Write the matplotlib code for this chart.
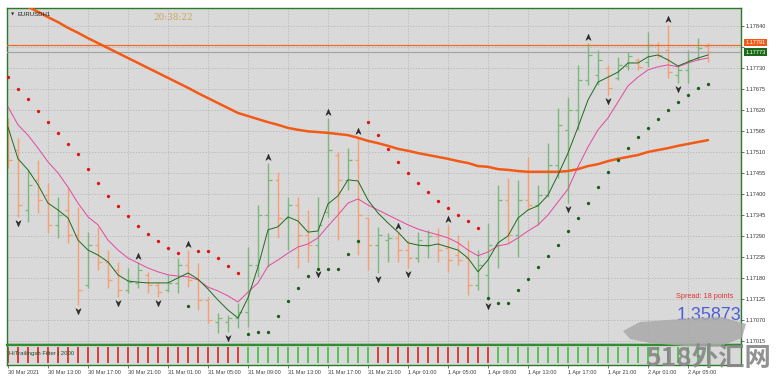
import numpy as np
import matplotlib
matplotlib.use("Agg")
import matplotlib.pyplot as plt
from matplotlib.path import Path
from matplotlib.patches import Polygon
from matplotlib.transforms import offset_copy

plt.rcParams['font.family'] = ['Liberation Sans', 'DejaVu Sans']

# EURUSD H1, bars from 30 Mar 2021 09:00 (one bar per hour)
opens = [1.17581, 1.17515, 1.17358, 1.17437, 1.17397, 1.17319, 1.17358, 1.17293, 1.17162, 1.17266,
         1.17222, 1.17201, 1.17148, 1.17167, 1.17188, 1.17162, 1.17148, 1.17167, 1.17214, 1.17180,
         1.17122, 1.17065, 1.17065, 1.17075, 1.17091, 1.17214, 1.17345, 1.17437, 1.17337, 1.17371,
         1.17293, 1.17266, 1.17353, 1.17502, 1.17437, 1.17489, 1.17337, 1.17266, 1.17279, 1.17285,
         1.17253, 1.17232, 1.17266, 1.17290, 1.17258, 1.17240, 1.17232, 1.17162, 1.17188, 1.17266,
         1.17384, 1.17293, 1.17384, 1.17371, 1.17397, 1.17476, 1.17568, 1.17620, 1.17698, 1.17712,
         1.17730, 1.17704, 1.17735, 1.17751, 1.17746, 1.17790, 1.17777, 1.17712, 1.17725, 1.17756,
         1.17788]
highs = [1.17599, 1.17547, 1.17463, 1.17489, 1.17429, 1.17392, 1.17416, 1.17366, 1.17300, 1.17313,
         1.17253, 1.17222, 1.17206, 1.17222, 1.17196, 1.17169, 1.17188, 1.17232, 1.17253, 1.17219,
         1.17130, 1.17088, 1.17083, 1.17114, 1.17261, 1.17371, 1.17481, 1.17458, 1.17392, 1.17392,
         1.17358, 1.17392, 1.17599, 1.17510, 1.17520, 1.17549, 1.17340, 1.17313, 1.17298, 1.17300,
         1.17279, 1.17300, 1.17306, 1.17311, 1.17319, 1.17293, 1.17279, 1.17253, 1.17324, 1.17423,
         1.17442, 1.17437, 1.17497, 1.17423, 1.17533, 1.17625, 1.17654, 1.17738, 1.17795, 1.17777,
         1.17738, 1.17759, 1.17772, 1.17756, 1.17824, 1.17798, 1.17843, 1.17738, 1.17777, 1.17808,
         1.17795]
lows = [1.17468, 1.17340, 1.17327, 1.17350, 1.17298, 1.17285, 1.17272, 1.17109, 1.17154, 1.17201,
        1.17154, 1.17130, 1.17141, 1.17154, 1.17141, 1.17130, 1.17143, 1.17141, 1.17156, 1.17096,
        1.17062, 1.17036, 1.17038, 1.17049, 1.17052, 1.17183, 1.17209, 1.17285, 1.17253, 1.17206,
        1.17222, 1.17206, 1.17340, 1.17279, 1.17410, 1.17240, 1.17201, 1.17193, 1.17222, 1.17222,
        1.17206, 1.17222, 1.17232, 1.17222, 1.17196, 1.17214, 1.17135, 1.17148, 1.17122, 1.17206,
        1.17272, 1.17235, 1.17358, 1.17319, 1.17392, 1.17442, 1.17376, 1.17568, 1.17685, 1.17685,
        1.17659, 1.17698, 1.17725, 1.17725, 1.17733, 1.17756, 1.17704, 1.17691, 1.17691, 1.17751,
        1.17746]
closes = [1.17489, 1.17371, 1.17423, 1.17384, 1.17319, 1.17345, 1.17293, 1.17148, 1.17266, 1.17222,
          1.17175, 1.17148, 1.17169, 1.17201, 1.17162, 1.17143, 1.17167, 1.17214, 1.17175, 1.17122,
          1.17070, 1.17075, 1.17075, 1.17091, 1.17214, 1.17345, 1.17437, 1.17337, 1.17371, 1.17293,
          1.17266, 1.17319, 1.17515, 1.17437, 1.17489, 1.17345, 1.17266, 1.17293, 1.17285, 1.17253,
          1.17232, 1.17279, 1.17290, 1.17253, 1.17227, 1.17227, 1.17162, 1.17214, 1.17266, 1.17384,
          1.17293, 1.17384, 1.17371, 1.17397, 1.17476, 1.17581, 1.17620, 1.17698, 1.17764, 1.17751,
          1.17678, 1.17738, 1.17761, 1.17733, 1.17790, 1.17764, 1.17719, 1.17725, 1.17751, 1.17782,
          1.17773]

# parabolic SAR
sar = [1.17706, 1.17675, 1.17649, 1.17617, 1.17589, 1.17560, 1.17531, 1.17505, 1.17465, 1.17429,
       1.17395, 1.17369, 1.17342, 1.17316, 1.17295, 1.17277, 1.17259, 1.17245, 1.17107, 1.17251,
       1.17251, 1.17232, 1.17211, 1.17193, 1.17033, 1.17039, 1.17039, 1.17080, 1.17120, 1.17154,
       1.17185, 1.17204, 1.17204, 1.17204, 1.17243, 1.17277, 1.17589, 1.17554, 1.17518, 1.17484,
       1.17455, 1.17429, 1.17405, 1.17382, 1.17363, 1.17345, 1.17329, 1.17311, 1.17128, 1.17114,
       1.17114, 1.17149, 1.17177, 1.17209, 1.17238, 1.17266, 1.17303, 1.17337, 1.17376, 1.17418,
       1.17458, 1.17489, 1.17520, 1.17549, 1.17573, 1.17596, 1.17620, 1.17641, 1.17659, 1.17678,
       1.17688]

# moving averages (fast green, slow pink, long thick orange)
ma_fast = [1.17575, 1.17492, 1.17463, 1.17424, 1.17376, 1.17358, 1.17337, 1.17279, 1.17253, 1.17240,
           1.17222, 1.17188, 1.17172, 1.17169, 1.17167, 1.17167, 1.17167, 1.17180, 1.17193, 1.17177,
           1.17151, 1.17122, 1.17096, 1.17075, 1.17128, 1.17209, 1.17306, 1.17314, 1.17340, 1.17329,
           1.17300, 1.17303, 1.17374, 1.17395, 1.17437, 1.17434, 1.17384, 1.17350, 1.17324, 1.17300,
           1.17272, 1.17266, 1.17264, 1.17269, 1.17261, 1.17253, 1.17232, 1.17196, 1.17227, 1.17272,
           1.17290, 1.17337, 1.17358, 1.17369, 1.17397, 1.17450, 1.17507, 1.17575, 1.17646, 1.17693,
           1.17706, 1.17719, 1.17743, 1.17743, 1.17759, 1.17764, 1.17751, 1.17735, 1.17746, 1.17756,
           1.17764]
ma_slow = [1.17628, 1.17581, 1.17554, 1.17520, 1.17484, 1.17455, 1.17418, 1.17376, 1.17340, 1.17319,
           1.17279, 1.17253, 1.17232, 1.17219, 1.17206, 1.17196, 1.17188, 1.17185, 1.17183, 1.17175,
           1.17156, 1.17146, 1.17133, 1.17117, 1.17143, 1.17167, 1.17211, 1.17227, 1.17245, 1.17261,
           1.17269, 1.17285, 1.17316, 1.17345, 1.17376, 1.17387, 1.17371, 1.17358, 1.17345, 1.17332,
           1.17319, 1.17308, 1.17300, 1.17293, 1.17285, 1.17272, 1.17253, 1.17238, 1.17248, 1.17264,
           1.17269, 1.17285, 1.17303, 1.17319, 1.17345, 1.17379, 1.17413, 1.17471, 1.17523, 1.17568,
           1.17599, 1.17641, 1.17683, 1.17706, 1.17725, 1.17733, 1.17738, 1.17733, 1.17743, 1.17751,
           1.17756]
ma_long = [1.17916, 1.17903, 1.17890, 1.17877, 1.17863, 1.17850, 1.17835, 1.17822, 1.17808, 1.17795,
           1.17782, 1.17769, 1.17756, 1.17743, 1.17730, 1.17717, 1.17704, 1.17691, 1.17678, 1.17664,
           1.17651, 1.17638, 1.17625, 1.17612, 1.17604, 1.17596, 1.17588, 1.17581, 1.17573, 1.17568,
           1.17564, 1.17562, 1.17560, 1.17557, 1.17554, 1.17547, 1.17539, 1.17533, 1.17526, 1.17518,
           1.17513, 1.17507, 1.17502, 1.17497, 1.17492, 1.17486, 1.17481, 1.17473, 1.17471, 1.17465,
           1.17463, 1.17460, 1.17458, 1.17458, 1.17458, 1.17458, 1.17460, 1.17465, 1.17473, 1.17478,
           1.17486, 1.17492, 1.17497, 1.17502, 1.17510, 1.17515, 1.17520, 1.17526, 1.17531, 1.17536,
           1.17541]

# fractals (bar indices)
frac_up = [13, 18, 26, 32, 35, 39, 44, 58, 66]
frac_dn = [1, 7, 11, 15, 22, 31, 37, 40, 48, 56, 60, 67]

# trailing filter state per bar (-1 red, 1 green)
filt = [-1, -1, -1, -1, -1, -1, -1, -1, -1, -1, -1, -1, -1, -1, -1, -1, -1, -1, -1, -1,
        -1, -1, -1, -1, 1, 1, 1, 1, 1, 1, 1, 1, 1, 1, 1, 1, 1, -1, -1, -1,
        -1, -1, -1, -1, -1, -1, -1, -1, -1, 1, 1, 1, 1, 1, 1, 1, 1, 1, 1, 1,
        1, 1, 1, 1, 1, 1, 1, 1, 1, 1, 1]

bid = 1.17773
ask = 1.17791

price_ticks = [1.17015, 1.17070, 1.17125, 1.17180, 1.17235, 1.17290, 1.17345, 1.17400,
               1.17455, 1.17510, 1.17565, 1.17620, 1.17675, 1.17730, 1.17785, 1.17840]
time_ticks = [0, 4, 8, 12, 16, 20, 24, 28, 32, 36, 40, 44, 48, 52, 56, 60, 64, 68]
time_labels = ['30 Mar 2021', '30 Mar 13:00', '30 Mar 17:00', '30 Mar 21:00',
               '31 Mar 01:00', '31 Mar 05:00', '31 Mar 09:00', '31 Mar 13:00',
               '31 Mar 17:00', '31 Mar 21:00', '1 Apr 01:00', '1 Apr 05:00',
               '1 Apr 09:00', '1 Apr 13:00', '1 Apr 17:00', '1 Apr 21:00',
               '2 Apr 01:00', '2 Apr 05:00']

W, H = 776, 383
BG = '#d9d9d9'
FRAME = '#2a7a2a'
BULL = '#7cb87c'
BEAR = '#f4a070'

fig = plt.figure(figsize=(W / 100, H / 100), dpi=100, facecolor='white')
ax = fig.add_axes([7 / W, 1 - 344 / H, 734 / W, 336 / H])
axs = fig.add_axes([7 / W, 1 - 365 / H, 734 / W, 20 / H])

x = np.arange(len(closes))
o = np.array(opens)
hi = np.array(highs)
lo = np.array(lows)
c = np.array(closes)
col = np.where(c >= o, BULL, BEAR)

ax.set_facecolor(BG)
ax.set_xlim(-0.1, 73.3)
ax.set_ylim(1.17007, 1.17887)

# grid
for t in price_ticks:
    ax.axhline(t, color='#b5b5b5', lw=0.6, ls=(0, (1.5, 2)), zorder=0)
for t in time_ticks[1:]:
    ax.axvline(t, color='#b5b5b5', lw=0.6, ls=(0, (1.5, 2)), zorder=0)

# OHLC bars
ax.vlines(x, lo, hi, colors=col, lw=1.0, zorder=2)
ax.hlines(o, x - 0.35, x, colors=col, lw=0.9, zorder=2)
ax.hlines(c, x, x + 0.35, colors=col, lw=0.9, zorder=2)

# ask / bid lines
ax.axhline(ask, color='#f06a2a', lw=0.9, zorder=3)
ax.axhline(bid, color='#a5a5a5', lw=0.9, zorder=3)

# moving averages
ax.plot(x, ma_long, color='#f25a16', lw=1.8, zorder=4, solid_capstyle='round')
ax.plot(x, ma_slow, color='#e2489e', lw=0.7, zorder=4)
ax.plot(x, ma_fast, color='#1d6b1d', lw=0.7, zorder=5)

# SAR
s = np.array(sar)
red = s > c
ax.plot(x[red], s[red], 'o', color='#e01414', ms=2.4, mec='none', zorder=6)
ax.plot(x[~red], s[~red], 'o', color='#1b5e1b', ms=2.4, mec='none', zorder=6)

# fractal arrows
up_path = Path([(0, 1), (0.8, -0.9), (0, -0.3), (-0.8, -0.9), (0, 1)],
               [Path.MOVETO, Path.LINETO, Path.LINETO, Path.LINETO, Path.CLOSEPOLY])
dn_path = Path([(0, -1), (0.8, 0.9), (0, 0.3), (-0.8, 0.9), (0, -1)],
               [Path.MOVETO, Path.LINETO, Path.LINETO, Path.LINETO, Path.CLOSEPOLY])
tr_up = offset_copy(ax.transData, fig=fig, x=0, y=6, units='dots')
tr_dn = offset_copy(ax.transData, fig=fig, x=0, y=-6, units='dots')
ax.plot(x[frac_up], hi[frac_up], ls='none', marker=up_path, ms=4.6, color='#2a2a2a',
        mec='#2a2a2a', mew=0.4, transform=tr_up, zorder=7)
ax.plot(x[frac_dn], lo[frac_dn], ls='none', marker=dn_path, ms=4.6, color='#2a2a2a',
        mec='#2a2a2a', mew=0.4, transform=tr_dn, zorder=7)

# right price axis
ax.yaxis.tick_right()
ax.set_yticks(price_ticks)
ax.set_yticklabels(['' if abs(t - 1.17785) < 1e-6 else f'{t:.5f}' for t in price_ticks])
ax.tick_params(axis='y', length=2, width=0.5, pad=1.5, labelsize=4, colors='#333333')
ax.set_xticks([])
for sp in ax.spines.values():
    sp.set_color(FRAME)
    sp.set_linewidth(1.0)

yax = ax.get_yaxis_transform()
ax.annotate(f'{ask:.5f}', xy=(1, ask), xycoords=yax, xytext=(3, 1.5), textcoords='offset points',
            va='center', ha='left', fontsize=4, color='white', annotation_clip=False,
            bbox=dict(boxstyle='square,pad=0.25', fc='#f05a14', ec='none'))
ax.annotate(f'{bid:.5f}', xy=(1, bid), xycoords=yax, xytext=(3, -0.5), textcoords='offset points',
            va='center', ha='left', fontsize=4, color='white', annotation_clip=False,
            bbox=dict(boxstyle='square,pad=0.25', fc='#1a6a1a', ec='none'))

# sub window
axs.set_facecolor(BG)
axs.set_xlim(-0.1, 73.3)
axs.set_ylim(-0.15, 1.1)
fcol = ['#3cc03c' if f > 0 else '#dd1f1f' for f in filt]
axs.vlines(x, 0, 1, colors=fcol, lw=1.2)
axs.set_yticks([])
axs.set_xticks(time_ticks)
axs.set_xticklabels(time_labels, ha='left')
axs.tick_params(axis='x', length=2, width=0.5, pad=1.5, labelsize=4, colors='#404040')
for sp in axs.spines.values():
    sp.set_color(FRAME)
    sp.set_linewidth(1.0)
axs.spines['top'].set_color('#2f8f2f')
axs.spines['top'].set_linewidth(1.6)

# texts
fig.text(11 / W, 1 - 14 / H, '▼', fontsize=3, color='#333333', va='center',
         family='DejaVu Sans')
fig.text(17 / W, 1 - 14 / H, 'EURUSDH1', fontsize=4.3, color='#222222', va='center')
fig.text(153 / W, 1 - 18 / H, '20:38:22', fontsize=6.3, color='#c9a55c', va='center',
         family='DejaVu Serif')
fig.text(9 / W, 1 - 354 / H, 'HiTrailingsh Filter | 2000', fontsize=4.3, color='#2a4a2a',
         va='center')
fig.text(733 / W, 1 - 296 / H, 'Spread: 18 points', fontsize=5.3, color='#e03535',
         ha='right', va='center')
fig.text(741 / W, 1 - 316 / H, '1.35873', fontsize=13, color='#4d5fd6',
         ha='right', va='center')

# watermark
blob = [(623, 331), (640, 322), (668, 320), (695, 318), (722, 317), (746, 324),
        (742, 338), (718, 347), (684, 346), (650, 343), (630, 339)]
fig.patches.append(Polygon([(px / W, 1 - py / H) for px, py in blob], closed=True,
                           transform=fig.transFigure, fc='#a9a9a9', ec='none', alpha=0.85,
                           zorder=5))
fig.text(708 / W, 1 - 358 / H, '518外汇网', fontsize=19, fontweight='bold', color='#868686',
         ha='center', va='center', alpha=0.9, family=['Noto Sans CJK SC', 'DejaVu Sans'],
         zorder=6)

fig.savefig('out.png', dpi=100, facecolor='white')
